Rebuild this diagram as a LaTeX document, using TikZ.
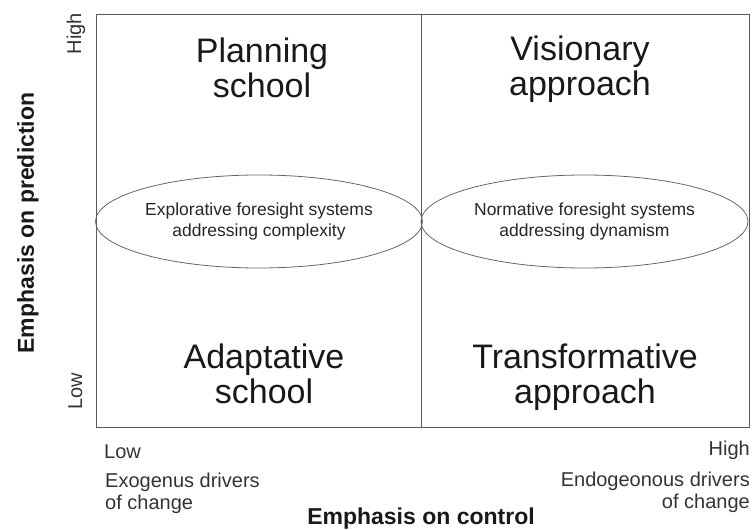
\documentclass[tikz,border=0pt]{standalone}
\usepackage{fontspec}
\setmainfont{Liberation Sans}
\usepackage{tikz}
\usetikzlibrary{shapes.geometric, positioning}

\begin{document}
\begin{tikzpicture}  [
        x = 1pt, y = -1pt,
        node distance = 4pt,
        frame/.style = {draw=black!65, line width=0.9pt},
        quad/.style = {align=center, inner sep=0pt, text=black!90,
                       font=\fontsize{34}{35}\selectfont},
        oval/.style = {ellipse, draw=black!60, line width=0.8pt, inner sep=0pt,
                       minimum width=327pt, minimum height=93pt, align=center,
                       text=black!85, font=\fontsize{17.5}{21}\selectfont},
        tick/.style = {inner sep=0pt, text=black!80, font=\fontsize{20}{21.5}\selectfont},
        axis/.style = {inner sep=0pt, text=black!90, font=\fontsize{23}{26}\selectfont\bfseries}
    ]

    \useasboundingbox (0,0) rectangle (753,530);

    % frame and middle line
    \coordinate (tl) at (96,14);
    \coordinate (br) at (749,427);
    \coordinate (mt) at (421,14);
    \coordinate (mb) at (421,427);
    \draw[frame] (tl) rectangle (br);
    \draw[frame] (mt) -- (mb);

    % quadrants
    \node[quad, anchor=base] (plan)  at (262,97)  {Planning\\school};
    \node[quad, anchor=base] (vis)   at (580,95)  {Visionary\\approach};
    \node[quad, anchor=base] (adapt) at (264,403) {Adaptative\\school};
    \node[quad, anchor=base] (trans) at (585,403) {Transformative\\approach};

    % ellipses
    \node[oval] (expl) at (259,221.5) {Explorative foresight systems\\addressing complexity};
    \node[oval] (norm) at (584.5,221.5) {Normative foresight systems\\addressing dynamism};

    % vertical axis
    \node[tick, rotate=90, anchor=base east] (yhigh) at (81,13)  {High};
    \node[tick, rotate=90, anchor=base west] (ylow)  at (82,410) {Low};
    \node[axis, rotate=90, anchor=base] (ytitle) at (34,223) {Emphasis on prediction};

    % horizontal axis
    \node[tick, anchor=base west] (xlow)  at (104,458) {Low};
    \node[tick, anchor=base east] (xhigh) at (750,455) {High};
    \node[tick, align=left, anchor=base west] (exo) at (105,509) {Exogenus drivers\\of change};
    \node[tick, align=right, anchor=base east] (endo) at (750,508) {Endogeonous drivers\\of change};
    \node[axis, anchor=base] (xtitle) at (421,524) {Emphasis on control};

\end{tikzpicture}
\end{document}
